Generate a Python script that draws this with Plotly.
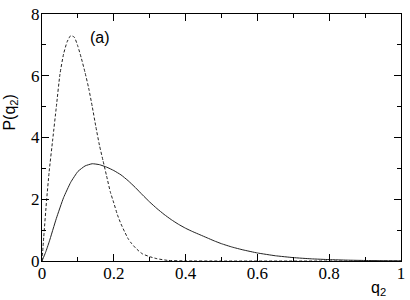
import plotly.graph_objects as go

# Solid curve
q_solid = [0, 0.01, 0.02, 0.04, 0.06, 0.08, 0.10, 0.12, 0.14, 0.16, 0.18, 0.20, 0.22, 0.24,
           0.26, 0.28, 0.30, 0.32, 0.34, 0.36, 0.38, 0.40, 0.42, 0.44, 0.46, 0.48, 0.50,
           0.53, 0.56, 0.60, 0.65, 0.70, 0.75, 0.80, 0.85, 0.90, 0.95, 1.00]
p_solid = [0, 0.28, 0.62, 1.38, 2.05, 2.55, 2.90, 3.08, 3.15, 3.12, 3.04, 2.93, 2.79, 2.60,
           2.38, 2.14, 1.91, 1.70, 1.51, 1.34, 1.19, 1.06, 0.95, 0.85, 0.75, 0.65, 0.56,
           0.45, 0.36, 0.26, 0.17, 0.11, 0.07, 0.045, 0.028, 0.017, 0.009, 0.004]

# Dashed curve
q_dash = [0, 0.005, 0.013, 0.02, 0.03, 0.04, 0.05, 0.06, 0.07, 0.08, 0.09, 0.10, 0.11, 0.12,
          0.13, 0.14, 0.15, 0.16, 0.17, 0.18, 0.19, 0.20, 0.21, 0.22, 0.23, 0.24, 0.25,
          0.26, 0.27, 0.28, 0.30, 0.32, 0.35, 0.40, 0.50, 1.00]
p_dash = [0, 0.8, 2.0, 2.9, 3.95, 5.0, 6.05, 6.7, 7.1, 7.3, 7.25, 6.95, 6.55, 6.1,
          5.6, 5.0, 4.35, 3.75, 3.25, 2.75, 2.25, 1.88, 1.5, 1.2, 0.95, 0.72, 0.56,
          0.43, 0.32, 0.23, 0.14, 0.075, 0.02, 0.003, 0, 0]

x_ticks = [0, 0.2, 0.4, 0.6, 0.8, 1]
x_labels = ["0", "0.2", "0.4", "0.6", "0.8", "1"]
y_ticks = [0, 2, 4, 6, 8]
y_labels = ["0", "2", "4", "6", "8"]

line_col = "#222222"
fig = go.Figure()
fig.add_trace(go.Scatter(x=q_dash, y=p_dash, mode="lines",
                         line=dict(color=line_col, width=1, dash="3px,2px", shape="spline", smoothing=0.5)))
fig.add_trace(go.Scatter(x=q_solid, y=p_solid, mode="lines",
                         line=dict(color=line_col, width=1, shape="spline", smoothing=0.4)))

SERIF = "Liberation Serif, Times New Roman, Times, serif"
tickfont = dict(family=SERIF, size=17, color="black")
axis_common = dict(showline=True, linecolor="black", linewidth=1, mirror="ticks",
                   ticks="inside", ticklen=7, tickcolor="black", tickwidth=1,
                   showgrid=False, zeroline=False, tickfont=tickfont,
                   ticklabeloverflow="allow")

sans = dict(family="Liberation Sans, Arial, sans-serif", size=16, color="black")
L, R, T, B = 42, 5, 7, 39
W, H = 410, 300
pw, ph = W - L - R, H - T - B

def px_to_paper(px, py):
    return (px - L) / pw, ((H - py) - B) / ph

ann_a = px_to_paper(101, 31)
ann_y = px_to_paper(10, 108)
ann_x = px_to_paper(382, 289)

fig.update_layout(
    width=W, height=H,
    margin=dict(l=L, r=R, t=T, b=B),
    paper_bgcolor="white", plot_bgcolor="white",
    showlegend=False,
    xaxis=dict(range=[0, 1], tickvals=x_ticks, ticktext=x_labels, ticklabelstandoff=-3,
               minor=dict(dtick=0.1, ticks="inside", ticklen=4, tickcolor="black"),
               **axis_common),
    yaxis=dict(range=[0, 8], tickvals=y_ticks, ticktext=y_labels, ticklabelstandoff=-2,
               minor=dict(dtick=1, ticks="inside", ticklen=4, tickcolor="black"),
               **axis_common),
    annotations=[
        dict(text="(a)", x=ann_a[0], y=ann_a[1], xref="paper", yref="paper",
             showarrow=False, xanchor="center", yanchor="middle", font=sans),
        dict(text="P(q<sub>2</sub>)", x=ann_y[0], y=ann_y[1], xref="paper", yref="paper",
             showarrow=False, textangle=-90, xanchor="center", yanchor="middle", font=sans),
        dict(text="q<sub>2</sub>", x=ann_x[0], y=ann_x[1], xref="paper", yref="paper",
             showarrow=False, xanchor="center", yanchor="middle", font=sans),
    ],
)

fig.write_html("out.html", config={"displayModeBar": False},
               post_script="document.body.style.margin='0';document.body.style.padding='0';")
